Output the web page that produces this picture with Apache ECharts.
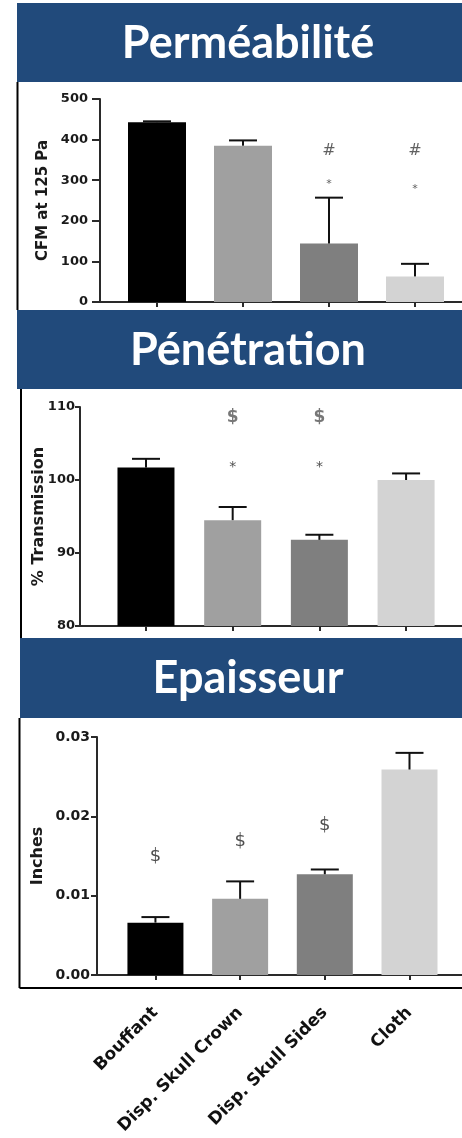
<!DOCTYPE html>
<html><head><meta charset="utf-8">
<script src="https://cdn.jsdelivr.net/npm/echarts@6.0.0/dist/echarts.min.js"></script>
<style>html,body{margin:0;padding:0;background:#fff}#c{width:462px;height:1138px}</style>
</head><body><div id="c"></div>
<script>
// ---- data ----
const categories = ['Bouffant', 'Disp. Skull Crown', 'Disp. Skull Sides', 'Cloth'];
const panelTitles = ['Perméabilité', 'Pénétration', 'Epaisseur'];
const axisNames = ['CFM at 125 Pa', '% Transmission', 'Inches'];

const permeabilityMean = [443, 385, 144, 63];
const permeabilityErr = [2, 13, 113, 31];
const penetrationMean = [101.7, 94.5, 91.8, 100.0];
const penetrationErr = [1.2, 1.8, 0.7, 0.9];
const thicknessMean = [0.0066, 0.0096, 0.0127, 0.0259];
const thicknessErr = [0.0007, 0.0022, 0.0006, 0.0021];

const permeabilityTicks = [0, 100, 200, 300, 400, 500];
const penetrationTicks = [80, 90, 100, 110];
const thicknessTicks = [0.00, 0.01, 0.02, 0.03];

// significance marks: [category index, value, symbol]
const permeabilityMarks = [[2, 372, '#'], [3, 372, '#'], [2, 298, '*'], [3, 286, '*']];
const penetrationMarks = [[1, 108.5, '$'], [2, 108.5, '$'], [1, 102.2, '*'], [2, 102.2, '*']];
const thicknessMarks = [[0, 0.0149, '$'], [1, 0.0169, '$'], [2, 0.0189, '$']];

// ---- styles ----
const barColors = ['#000000', '#a0a0a0', '#7f7f7f', '#d3d3d3'];
const headerColor = '#214a7b';
const axisColor = '#2a2a2a';
const textColor = '#1a1a1a';
const FONT = 'DejaVu Sans';

const panels = [
  { mean: permeabilityMean, err: permeabilityErr, ticks: permeabilityTicks, marks: permeabilityMarks,
    grid: { left: 100, top: 99, width: 362, height: 203 }, xmin: -0.6628, xmax: 3.5465, barW: 58,
    labelSize: 13, labelMargin: 12, tickLen: 8, nameSize: 15, nameGap: 49, fmt: v => String(v),
    rich: { h: { fontSize: 16, color: '#3a3a3a', fontFamily: FONT }, s: { fontSize: 11, color: '#333', fontFamily: FONT, padding: [6, 0, 0, 0] }, d: {} } },
  { mean: penetrationMean, err: penetrationErr, ticks: penetrationTicks, marks: penetrationMarks,
    grid: { left: 80, top: 407, width: 382, height: 219 }, xmin: -0.761, xmax: 3.645, barW: 57,
    labelSize: 13, labelMargin: 5, tickLen: 5, nameSize: 16, nameGap: 33, fmt: v => String(v),
    rich: { d: { fontSize: 17, fontWeight: 'bold', color: '#555', fontFamily: FONT }, s: { fontSize: 14, color: '#222', fontFamily: FONT, padding: [7, 0, 0, 0] }, h: {} } },
  { mean: thicknessMean, err: thicknessErr, ticks: thicknessTicks, marks: thicknessMarks,
    grid: { left: 97, top: 737, width: 365, height: 238 }, xmin: -0.69, xmax: 3.62, barW: 56,
    labelSize: 14, labelMargin: 7, tickLen: 6, nameSize: 16, nameGap: 51, fmt: v => v.toFixed(2),
    rich: { d: { fontSize: 18, color: '#222', fontFamily: FONT }, s: {}, h: {} } }
];
const symKey = { '#': 'h', '*': 's', '$': 'd' };

const grids = [], xAxes = [], yAxes = [], series = [];
panels.forEach((p, k) => {
  grids.push(Object.assign({ containLabel: false }, p.grid));
  const last = k === 2;
  xAxes.push({
    type: 'value', gridIndex: k, min: p.xmin, max: p.xmax,
    splitLine: { show: false },
    axisLine: { show: true, onZero: false, lineStyle: { color: axisColor, width: 2 } },
    axisTick: { show: true, length: 5, customValues: [0, 1, 2, 3], lineStyle: { color: axisColor, width: 2 } },
    axisLabel: last ? {
      show: true, customValues: [0, 1, 2, 3], formatter: v => categories[Math.round(v)],
      rotate: 45, margin: 35, fontSize: 17, fontWeight: 'bold', fontFamily: FONT, color: '#111'
    } : { show: false }
  });
  yAxes.push({
    type: 'value', gridIndex: k,
    min: p.ticks[0], max: p.ticks[p.ticks.length - 1], interval: p.ticks[1] - p.ticks[0],
    splitLine: { show: false },
    axisLine: { show: true, onZero: false, lineStyle: { color: axisColor, width: 2 } },
    axisTick: { show: true, length: p.tickLen, lineStyle: { color: axisColor, width: 2 } },
    axisLabel: { margin: p.labelMargin, fontSize: p.labelSize, fontWeight: 'bold', fontFamily: FONT,
      color: textColor, formatter: p.fmt },
    name: axisNames[k], nameLocation: 'middle', nameGap: p.nameGap, nameRotate: 90,
    nameMoveOverlap: false,
    nameTextStyle: { fontSize: p.nameSize, fontWeight: 'bold', fontFamily: FONT, color: textColor }
  });
  series.push({
    type: 'bar', xAxisIndex: k, yAxisIndex: k, barWidth: p.barW,
    data: p.mean.map((v, i) => ({ value: [i, v], itemStyle: { color: barColors[i] } })),
    z: 2
  });
  series.push({
    type: 'custom', xAxisIndex: k, yAxisIndex: k, z: 3,
    data: p.mean.map((v, i) => [i, v, p.err[i]]),
    renderItem: (params, api) => {
      const x = api.value(0), v = api.value(1), e = api.value(2);
      const b = api.coord([x, v]);
      const t = api.coord([x, v + e]);
      const cap = 28;
      const st = { stroke: '#111', lineWidth: 2 };
      return { type: 'group', children: [
        { type: 'line', shape: { x1: b[0], y1: b[1], x2: t[0], y2: t[1] }, style: st },
        { type: 'line', shape: { x1: t[0] - cap / 2, y1: t[1], x2: t[0] + cap / 2, y2: t[1] }, style: st }
      ] };
    }
  });
  series.push({
    type: 'scatter', xAxisIndex: k, yAxisIndex: k, symbolSize: 0, z: 4,
    data: p.marks.map(m => ({ value: [m[0], m[1]], name: m[2] })),
    label: {
      show: true, position: 'inside',
      formatter: d => '{' + symKey[d.name] + '|' + d.name + '}',
      rich: p.rich
    },
    silent: true
  });
});

const headers = [
  { y: 3, x: 17, h: 79, ty: 43 },
  { y: 310, x: 17, h: 79, ty: 350 },
  { y: 638, x: 20, h: 80, ty: 678 }
];
const graphic = [];
headers.forEach((h, k) => {
  graphic.push({ type: 'rect', shape: { x: h.x, y: h.y, width: 462 - h.x, height: h.h },
    style: { fill: headerColor }, silent: true });
  graphic.push({ type: 'text', x: 248, y: h.ty, style: { text: panelTitles[k], fill: '#fff',
    font: 'bold 45px Lato', align: 'center', verticalAlign: 'middle' }, silent: true });
});
// panel frame lines
graphic.push({ type: 'line', shape: { x1: 17.5, y1: 82, x2: 17.5, y2: 310 }, style: { stroke: '#000', lineWidth: 2 } });
graphic.push({ type: 'line', shape: { x1: 21, y1: 389, x2: 21, y2: 638 }, style: { stroke: '#000', lineWidth: 2 } });
graphic.push({ type: 'line', shape: { x1: 19.5, y1: 718, x2: 19.5, y2: 988 }, style: { stroke: '#000', lineWidth: 2 } });
graphic.push({ type: 'line', shape: { x1: 19.5, y1: 988, x2: 462, y2: 988 }, style: { stroke: '#000', lineWidth: 2 } });

const chart = echarts.init(document.getElementById('c'), null, { renderer: 'canvas', width: 462, height: 1138 });
chart.setOption({
  backgroundColor: '#fff',
  animation: false,
  grid: grids, xAxis: xAxes, yAxis: yAxes, series: series, graphic: graphic
});
</script>
</body></html>
